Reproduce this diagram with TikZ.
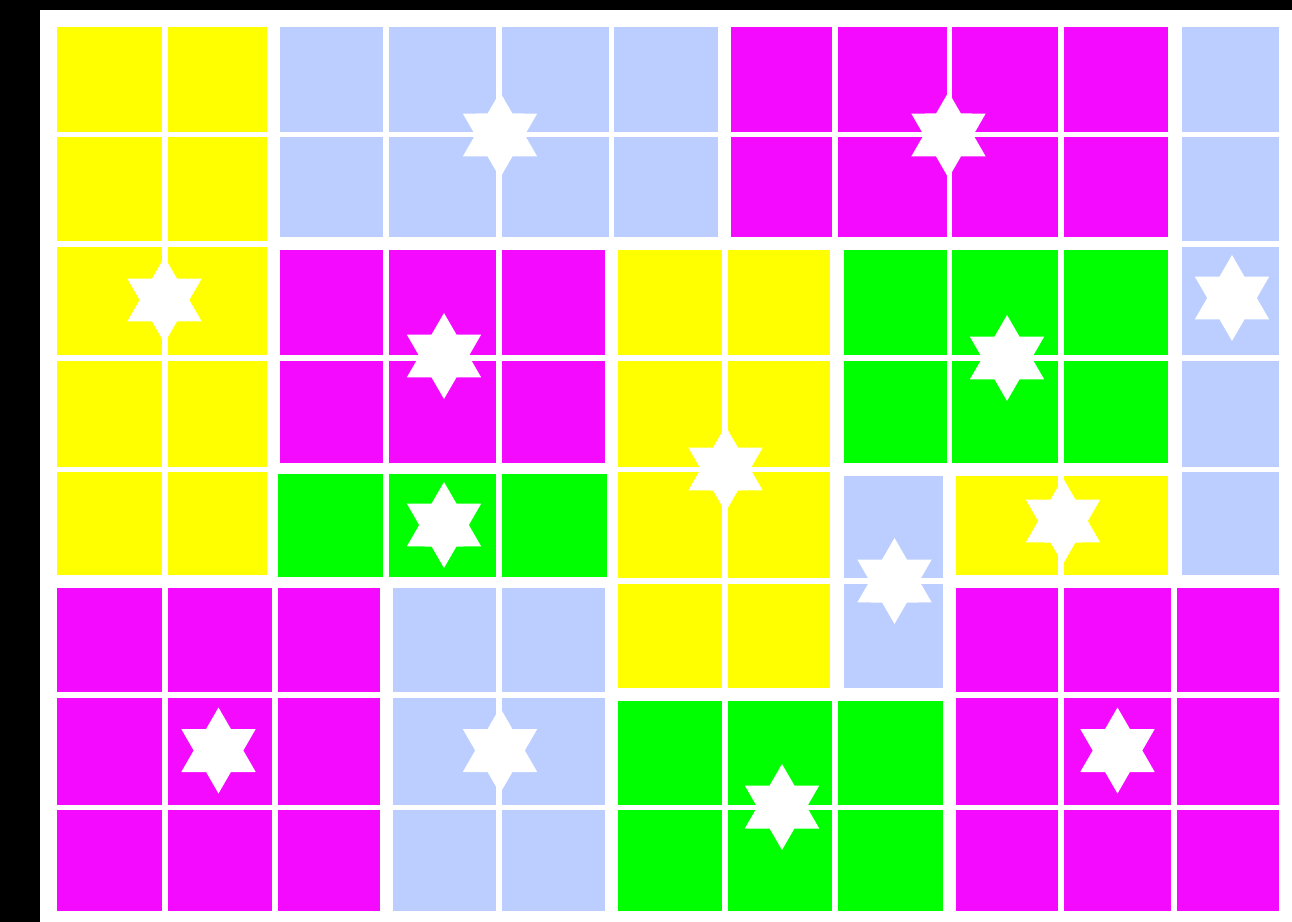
\documentclass[tikz,border=0pt]{standalone}
\usetikzlibrary{shapes.geometric}
\definecolor{tileyellow}{RGB}{255,255,0}
\definecolor{tilegreen}{RGB}{0,255,0}
\definecolor{tilemagenta}{RGB}{243,10,255}
\definecolor{tileblue}{RGB}{187,206,255}
\begin{document}
\begin{tikzpicture}[x=0.02cm, y=-0.02cm,
    hexa/.style={star, star points=6, star point ratio=1.732,
      minimum size=1.72cm, inner sep=0pt, outer sep=0pt, fill=white}]
  % 画布与黑边
  \useasboundingbox (0,0) rectangle (1292,922);
  \fill[white] (0,0) rectangle (1292,922);
  \fill[black] (0,0) rectangle (40,922);
  \fill[black] (0,0) rectangle (1292,10);
  % 上排
  \foreach \xa/\xb in {57/162,168/267}
    \foreach \ya/\yb in {27/132,137/241,247/355,361/467,472/575}
      \fill[tileyellow] (\xa,\ya) rectangle (\xb,\yb);
  \foreach \xa/\xb in {280/383,389/496,502/609,614/718}
    \foreach \ya/\yb in {27/132,137/237}
      \fill[tileblue] (\xa,\ya) rectangle (\xb,\yb);
  \foreach \xa/\xb in {731/832,838/947,952/1058,1064/1168}
    \foreach \ya/\yb in {27/132,137/237}
      \fill[tilemagenta] (\xa,\ya) rectangle (\xb,\yb);
  \foreach \ya/\yb in {27/132,137/241,247/355,361/467,472/575}
    \fill[tileblue] (1182,\ya) rectangle (1279,\yb);
  % 中排
  \foreach \xa/\xb in {280/383,389/496,502/605}
    \foreach \ya/\yb in {250/355,361/463}
      \fill[tilemagenta] (\xa,\ya) rectangle (\xb,\yb);
  \foreach \xa/\xb in {278/383,389/496,502/607}
    \fill[tilegreen] (\xa,474) rectangle (\xb,577);
  \foreach \xa/\xb in {618/722,728/830}
    \foreach \ya/\yb in {250/355,361/467,472/578,584/688}
      \fill[tileyellow] (\xa,\ya) rectangle (\xb,\yb);
  \foreach \xa/\xb in {844/947,952/1058,1064/1168}
    \foreach \ya/\yb in {250/355,361/463}
      \fill[tilegreen] (\xa,\ya) rectangle (\xb,\yb);
  \foreach \ya/\yb in {476/578,584/688}
    \fill[tileblue] (844,\ya) rectangle (943,\yb);
  \foreach \xa/\xb in {956/1058,1064/1168}
    \fill[tileyellow] (\xa,476) rectangle (\xb,575);
  % 下排
  \foreach \xa/\xb in {57/162,168/272,278/380}
    \foreach \ya/\yb in {588/692,698/805,810/911}
      \fill[tilemagenta] (\xa,\ya) rectangle (\xb,\yb);
  \foreach \xa/\xb in {393/496,502/605}
    \foreach \ya/\yb in {588/692,698/805,810/911}
      \fill[tileblue] (\xa,\ya) rectangle (\xb,\yb);
  \foreach \xa/\xb in {618/722,728/832,838/943}
    \foreach \ya/\yb in {701/805,810/911}
      \fill[tilegreen] (\xa,\ya) rectangle (\xb,\yb);
  \foreach \xa/\xb in {956/1058,1064/1171,1177/1279}
    \foreach \ya/\yb in {588/692,698/805,810/911}
      \fill[tilemagenta] (\xa,\ya) rectangle (\xb,\yb);
  % 六角星
  \node[hexa] (sBlueTop) at (500,135) {};
  \node[hexa] (sMagTop) at (948.5,135) {};
  \node[hexa] (sYelLeft) at (164.5,300) {};
  \node[hexa] (sBlueRight) at (1232,298) {};
  \node[hexa] (sMagMid) at (444,356) {};
  \node[hexa] (sGreenMid) at (444,525) {};
  \node[hexa] (sYelMid) at (725.5,469) {};
  \node[hexa] (sGreenRight) at (1007,358) {};
  \node[hexa] (sYelRight) at (1063,521) {};
  \node[hexa] (sBlueMid) at (894.5,581) {};
  \node[hexa] (sMagLow) at (218.5,750.5) {};
  \node[hexa] (sBlueLow) at (500,750.5) {};
  \node[hexa] (sGreenLow) at (782,807) {};
  \node[hexa] (sMagRight) at (1117.5,750.5) {};
\end{tikzpicture}
\end{document}
